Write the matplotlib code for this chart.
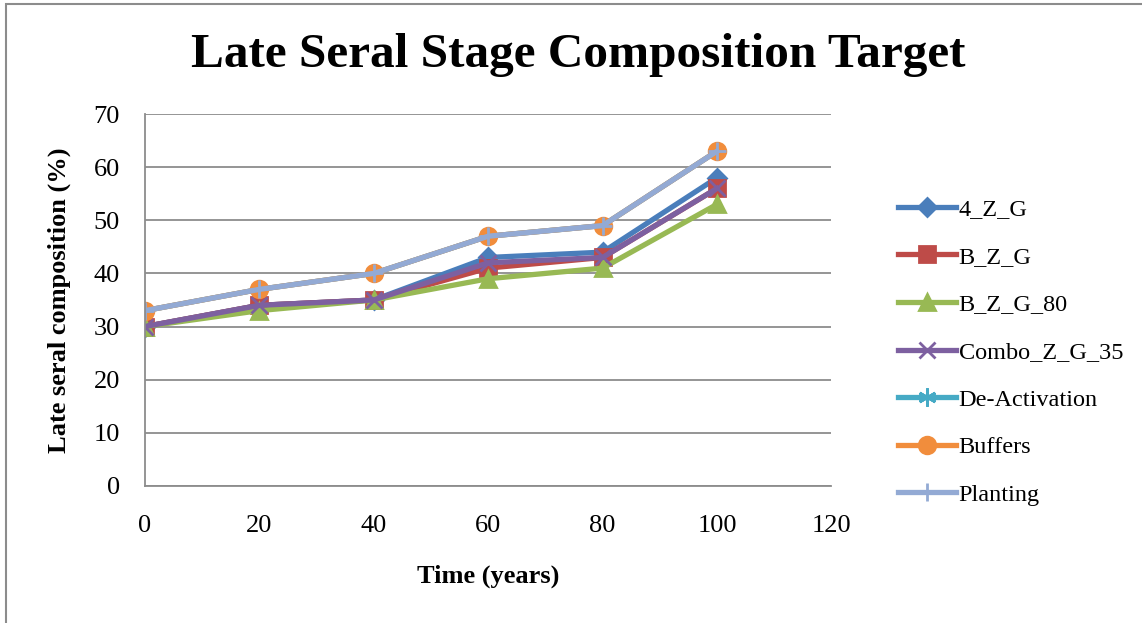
import matplotlib.pyplot as plt

plt.rcParams['font.family'] = ['Liberation Serif', 'DejaVu Serif']

years = [0, 20, 40, 60, 80, 100]

zg_4 = [30, 34, 35, 43, 44, 58]
bzg = [30, 34, 35, 41, 43, 56]
bzg_80 = [30, 33, 35, 39, 41, 53]
combo_zg_35 = [30, 34, 35, 42, 43, 56]
deactivation = [33, 37, 40, 47, 49, 63]
buffers = [33, 37, 40, 47, 49, 63]
planting = [33, 37, 40, 47, 49, 63]

series = [
    ('4_Z_G', zg_4, '#4A7EBB', 'D', 9),
    ('B_Z_G', bzg, '#BE4B48', 's', 11),
    ('B_Z_G_80', bzg_80, '#98B954', '^', 12),
    ('Combo_Z_G_35', combo_zg_35, '#7D60A0', 'x', 11),
    ('De-Activation', deactivation, '#46AAC5', (6, 2, 0), 13),
    ('Buffers', buffers, '#F18D3C', 'o', 12),
    ('Planting', planting, '#93AAD4', '+', 13),
]

fig = plt.figure(figsize=(11.42, 6.23), dpi=100)
ax = fig.add_axes([0.127, 0.22, 0.601, 0.597])

for name, vals, color, marker, ms in series:
    ax.plot(years, vals, color=color, lw=3.8, marker=marker, markersize=ms,
            markeredgecolor=color, markeredgewidth=2, label=name,
            solid_joinstyle='round')

ax.set_xlim(0, 120)
ax.set_ylim(0, 70)
ax.set_xticks(range(0, 121, 20))
ax.set_yticks(range(0, 71, 10))
ax.grid(axis='y', color='#8c8c8c', lw=1.3)
ax.set_axisbelow(True)
for side in ['top', 'right']:
    ax.spines[side].set_visible(False)
for side in ['left', 'bottom']:
    ax.spines[side].set_color('#8c8c8c')
    ax.spines[side].set_linewidth(1.3)
ax.tick_params(labelsize=19, length=0)
ax.tick_params(axis='y', pad=18)
ax.tick_params(axis='x', pad=21)

ax.set_xlabel('Time (years)', fontsize=19, fontweight='bold', labelpad=20)
ax.set_ylabel('Late seral composition (%)', fontsize=19, fontweight='bold',
              labelpad=16)
fig.text(0.506, 0.912, 'Late Seral Stage Composition Target', ha='center',
         va='center', fontsize=35.5, fontweight='bold')

ax.legend(loc='center left', bbox_to_anchor=(1.065, 0.36), frameon=False,
          fontsize=17.5, handlelength=2.4, labelspacing=1.05,
          handletextpad=0.1)

# outer chart border
fig.patches.append(plt.Rectangle((0.005, -0.01), 0.999, 1.003,
                                 transform=fig.transFigure, fill=False,
                                 edgecolor='#8c8c8c', lw=1.5))

fig.savefig('out.png', dpi=100)
